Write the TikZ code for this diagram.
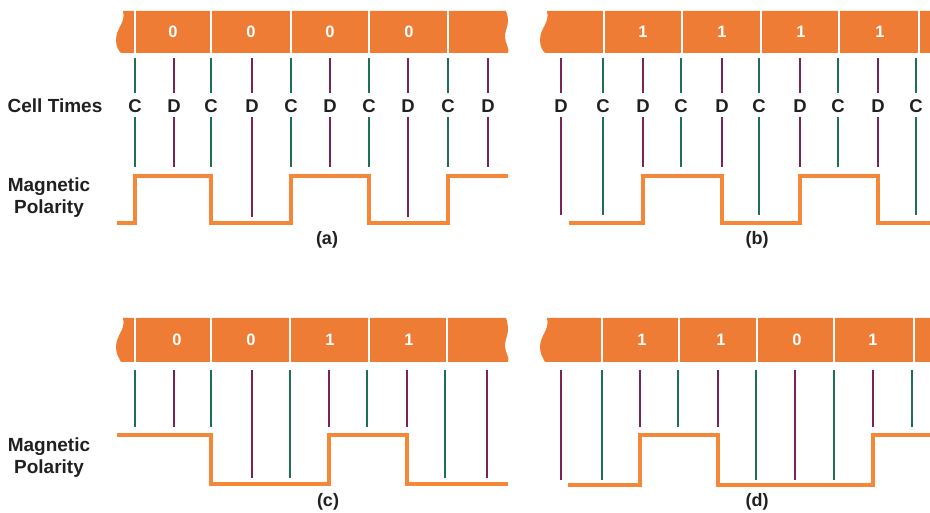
\documentclass[tikz,border=0pt]{standalone}
\usepackage{fontspec}
\setmainfont{Liberation Sans}
\begin{document}
\begin{tikzpicture}[x=1pt,y=-1pt,
  sep/.style={draw=white,line width=1.8pt},
  digit/.style={text=white,font=\bfseries\fontsize{16.5}{19}\selectfont,inner sep=0pt},
  letter/.style={text=inkc,font=\bfseries\fontsize{18.5}{21}\selectfont,inner sep=0pt},
  cline/.style={draw=clk,line width=1.25pt},
  dline/.style={draw=dat,line width=1.25pt},
  wave/.style={draw=waveor,line width=3.4pt,line join=miter},
  lbl/.style={text=inkc,font=\bfseries\fontsize{19}{22}\selectfont,align=center,inner sep=0pt},
  captxt/.style={text=inkc,font=\bfseries\fontsize{18}{21}\selectfont,inner sep=0pt}]
\definecolor{tapeor}{RGB}{238,124,52}
\definecolor{waveor}{RGB}{244,136,56}
\definecolor{clk}{RGB}{30,110,88}
\definecolor{dat}{RGB}{120,36,84}
\definecolor{inkc}{RGB}{32,32,32}
\useasboundingbox (0,0) rectangle (930,513);
\clip (0,0) rectangle (930,513);

% ---------- labels ----------
\node[lbl] (celltimes) at (55,106) {Cell Times};
\node[lbl] (magA) at (49,198) {Magnetic\\Polarity};
\node[lbl] (magC) at (49,458) {Magnetic\\Polarity};

% ---------- panel (a) ----------
\fill[tapeor] (123,11) .. controls (126,23) and (116,28) .. (116,40) .. controls (116,47) and (119,51) .. (121,53)
  -- (508,53) .. controls (510,48) and (505,44) .. (505,37) .. controls (505,28) and (511,24) .. (506,11) -- cycle;
\foreach \x in {135,211,291,369,448} \draw[sep] (\x,10) -- (\x,54);
\foreach \x/\n in {173/a1,251/a2,330/a3,409/a4} \node[digit] (\n) at (\x,32) {0};
\foreach \x/\e/\n in {135/167/ac1,211/167/ac2,291/167/ac3,369/167/ac4,448/167/ac5}{
  \node[letter] (\n) at (\x,106) {C};
  \draw[cline] (\x,58) -- (\x,93);
  \draw[cline] (\x,117) -- (\x,\e);}
\foreach \x/\e/\n in {174/167/ad1,252/217/ad2,330/167/ad3,408/217/ad4,488/167/ad5}{
  \node[letter] (\n) at (\x,106) {D};
  \draw[dline] (\x,58) -- (\x,93);
  \draw[dline] (\x,117) -- (\x,\e);}
\draw[wave] (117,223) -- (135,223) -- (135,176) -- (211,176) -- (211,223) -- (291,223) -- (291,176)
  -- (369,176) -- (369,223) -- (448,223) -- (448,176) -- (508,176);
\node[captxt] (capa) at (327,240) {(a)};

% ---------- panel (b) ----------
\fill[tapeor] (547,11) .. controls (550,23) and (540,28) .. (540,40) .. controls (540,47) and (543,51) .. (545,53)
  -- (935,53) -- (935,11) -- cycle;
\foreach \x in {604,682,761,839,919} \draw[sep] (\x,10) -- (\x,54);
\foreach \x/\n in {643/b1,722/b2,801/b3,880/b4} \node[digit] (\n) at (\x,32) {1};
\foreach \x/\e/\n in {603/215/bc1,681/167/bc2,759/215/bc3,838/167/bc4,916/215/bc5}{
  \node[letter] (\n) at (\x,106) {C};
  \draw[cline] (\x,58) -- (\x,93);
  \draw[cline] (\x,117) -- (\x,\e);}
\foreach \x/\e/\n in {561/215/bd1,643/167/bd2,722/167/bd3,800/167/bd4,878/167/bd5}{
  \node[letter] (\n) at (\x,106) {D};
  \draw[dline] (\x,58) -- (\x,93);
  \draw[dline] (\x,117) -- (\x,\e);}
\draw[wave] (569,223) -- (643,223) -- (643,176) -- (722,176) -- (722,223) -- (800,223) -- (800,176)
  -- (878,176) -- (878,223) -- (932,223);
\node[captxt] (capb) at (757,240) {(b)};

% ---------- panel (c) ----------
\fill[tapeor] (123,318) .. controls (126,330) and (116,335) .. (116,347) .. controls (116,354) and (119,358) .. (121,362)
  -- (508,362) .. controls (510,357) and (505,353) .. (505,346) .. controls (505,337) and (511,333) .. (506,318) -- cycle;
\foreach \x in {135,211,290,369,447} \draw[sep] (\x,317) -- (\x,363);
\foreach \x/\d/\n in {177/0/c1,251/0/c2,330/1/c3,409/1/c4} \node[digit] (\n) at (\x,340) {\d};
\foreach \x/\e in {135/427,211/427,290/478,367/427,445/478} \draw[cline] (\x,370) -- (\x,\e);
\foreach \x/\e in {174/427,252/478,329/427,407/427,487/478} \draw[dline] (\x,370) -- (\x,\e);
\draw[wave] (117,435) -- (211,435) -- (211,484) -- (329,484) -- (329,435) -- (407,435) -- (407,484) -- (508,484);
\node[captxt] (capc) at (328,502) {(c)};

% ---------- panel (d) ----------
\fill[tapeor] (547,318) .. controls (550,330) and (540,335) .. (540,347) .. controls (540,354) and (543,358) .. (545,362)
  -- (935,362) -- (935,318) -- cycle;
\foreach \x in {602,679,757,834,914} \draw[sep] (\x,317) -- (\x,363);
\foreach \x/\d/\n in {642/1/d1,721/1/d2,797/0/d3,873/1/d4} \node[digit] (\n) at (\x,340) {\d};
\foreach \x/\e in {602/480,678/427,756/480,834/480,912/427} \draw[cline] (\x,370) -- (\x,\e);
\foreach \x/\e in {561/480,640/427,718/427,795/480,873/427} \draw[dline] (\x,370) -- (\x,\e);
\draw[wave] (568,485) -- (640,485) -- (640,435) -- (718,435) -- (718,485) -- (873,485) -- (873,435) -- (932,435);
\node[captxt] (capd) at (757,502) {(d)};
\end{tikzpicture}
\end{document}
